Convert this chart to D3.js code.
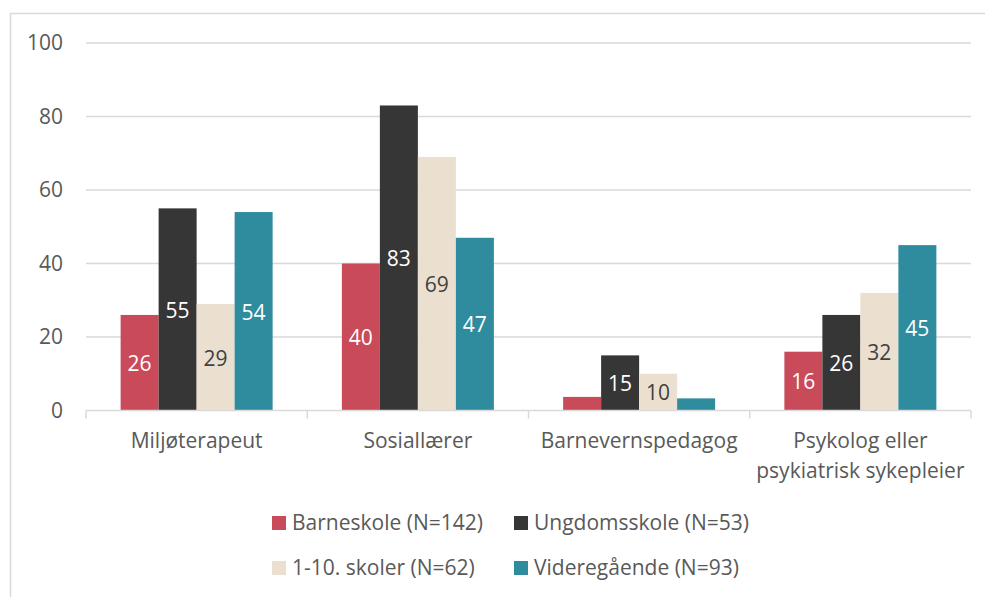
<!DOCTYPE html>
<html>
<head>
<meta charset="utf-8">
<script src="https://cdn.jsdelivr.net/npm/d3@7"></script>
<style>
  html, body { margin: 0; padding: 0; background: #fff; }
  svg { display: block; }
  text { font-family: "Open Sans", "Noto Sans", sans-serif; }
</style>
</head>
<body>
<svg id="chart" width="985" height="597"></svg>
<script>
// Professions (x categories) and school-level series
const categories = [
  ["Miljøterapeut"],
  ["Sosiallærer"],
  ["Barnevernspedagog"],
  ["Psykolog eller", "psykiatrisk sykepleier"]
];
const seriesNames = [
  "Barneskole (N=142)",
  "Ungdomsskole (N=53)",
  "1-10. skoler (N=62)",
  "Videregående (N=93)"
];
const barneskole   = [26, 40, 3.7, 16];
const ungdomsskole = [55, 83, 15, 26];
const skoler110    = [29, 69, 10, 32];
const videregaende = [54, 47, 3.3, 45];
const seriesValues = [barneskole, ungdomsskole, skoler110, videregaende];
const yTicks = [0, 20, 40, 60, 80, 100];

const colors = ["#C94A58", "#363636", "#EBE0D0", "#2E8C9E"];
const labelColors = ["#ffffff", "#ffffff", "#404040", "#ffffff"];
const fontSize = 21;
const fontFamily = '"Open Sans", "Noto Sans", sans-serif';

const svg = d3.select("#chart");
const plotLeft = 86, plotRight = 971, plotTop = 43, plotBottom = 410.5;

// Outer chart frame
svg.append("rect")
  .attr("x", 10.5).attr("y", 13.5)
  .attr("width", 990).attr("height", 600)
  .attr("fill", "none").attr("stroke", "#d9d9d9").attr("stroke-width", 1.5);

const y = d3.scaleLinear().domain([0, 100]).range([plotBottom, plotTop]);
const x0 = d3.scaleBand().domain(d3.range(categories.length)).range([plotLeft, plotRight]).paddingInner(0).paddingOuter(0);
const groupWidth = 152;
const x1 = d3.scaleBand().domain(d3.range(seriesNames.length))
  .range([0, groupWidth]).padding(0);

// Gridlines
svg.append("g").selectAll("line").data(yTicks.filter(d => d > 0)).join("line")
  .attr("x1", plotLeft).attr("x2", plotRight)
  .attr("y1", d => y(d)).attr("y2", d => y(d))
  .attr("stroke", "#d9d9d9").attr("stroke-width", 1.5);

// Y axis labels
const yAxis = d3.axisLeft(y).tickValues(yTicks).tickSize(0).tickPadding(0);
const yg = svg.append("g").attr("transform", `translate(${63},0)`).call(yAxis);
yg.select(".domain").remove();
yg.selectAll("text").attr("font-size", fontSize).attr("fill", "#595959")
  .attr("font-family", fontFamily);

// Bars
const groups = svg.append("g").selectAll("g").data(categories).join("g")
  .attr("transform", (d, i) => `translate(${x0(i) + (x0.bandwidth() - groupWidth) / 2},0)`);

groups.each(function(cat, ci) {
  const g = d3.select(this);
  seriesValues.forEach((vals, si) => {
    const v = vals[ci];
    g.append("rect")
      .attr("x", x1(si)).attr("width", x1.bandwidth())
      .attr("y", y(v)).attr("height", y(0) - y(v))
      .attr("fill", colors[si]);
    if (v >= 5) {
      g.append("text")
        .attr("x", x1(si) + x1.bandwidth() / 2)
        .attr("y", (y(v) + y(0)) / 2 + 1)
        .attr("dy", "0.35em")
        .attr("text-anchor", "middle")
        .attr("font-size", fontSize)
        .attr("fill", labelColors[si])
        .text(d3.format(".0f")(v));
    }
  });
});

// X axis line with category boundary ticks
svg.append("line").attr("x1", plotLeft).attr("x2", plotRight)
  .attr("y1", plotBottom).attr("y2", plotBottom)
  .attr("stroke", "#d9d9d9").attr("stroke-width", 1.5);
svg.append("g").selectAll("line").data(d3.range(categories.length + 1)).join("line")
  .attr("x1", i => plotLeft + i * x0.bandwidth()).attr("x2", i => plotLeft + i * x0.bandwidth())
  .attr("y1", plotBottom).attr("y2", plotBottom + 8)
  .attr("stroke", "#d9d9d9").attr("stroke-width", 1.5);

// Category labels
svg.append("g").selectAll("text").data(categories).join("text")
  .attr("x", (d, i) => x0(i) + x0.bandwidth() / 2)
  .attr("y", 441)
  .attr("text-anchor", "middle")
  .attr("font-size", fontSize)
  .attr("fill", "#595959")
  .each(function(lines) {
    const cx = d3.select(this).attr("x");
    d3.select(this).selectAll("tspan").data(lines).join("tspan")
      .attr("x", cx)
      .attr("dy", (l, j) => j === 0 ? "0.35em" : 30)
      .text(l => l);
  });

// Legend
const legendPos = [[272, 523], [514, 523], [272, 568], [514, 568]];
const legend = svg.append("g").selectAll("g").data(seriesNames).join("g")
  .attr("transform", (d, i) => `translate(${legendPos[i][0]},${legendPos[i][1]})`);
legend.append("rect").attr("x", 0).attr("y", -7).attr("width", 14).attr("height", 14)
  .attr("fill", (d, i) => colors[i]);
legend.append("text").attr("x", 20).attr("dy", "0.35em")
  .attr("font-size", fontSize).attr("fill", "#595959").text(d => d);
</script>
</body>
</html>
